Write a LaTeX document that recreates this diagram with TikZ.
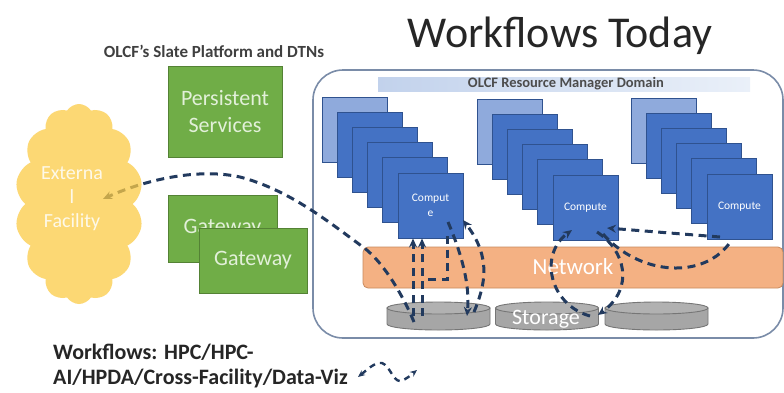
\documentclass[tikz,border=0pt]{standalone}
\usepackage{fontspec}
\setmainfont{Carlito}
\usetikzlibrary{shapes.symbols,arrows.meta}
\definecolor{gfill}{HTML}{70AD47}
\definecolor{gdraw}{HTML}{548235}
\definecolor{gtext}{HTML}{E2F0D9}
\definecolor{cdark}{HTML}{4472C4}
\definecolor{clight}{HTML}{8FAADC}
\definecolor{cborder}{HTML}{2F528F}
\definecolor{netfill}{HTML}{F4B183}
\definecolor{netdraw}{HTML}{C98A5E}
\definecolor{diskfill}{HTML}{A6A6A6}
\definecolor{diskdraw}{HTML}{767676}
\definecolor{flow}{HTML}{223A5E}
\definecolor{cloudfill}{HTML}{FBCB46}
\definecolor{domainc}{HTML}{7A8CA8}
\definecolor{hdrA}{HTML}{C2D2EC}
\definecolor{hdrB}{HTML}{EAF0F9}
\tikzset{
  greenbox/.style={draw=gdraw, fill=gfill, text=gtext, line width=0.8pt,
    font=\fontsize{22}{27}\selectfont, align=center, inner sep=0pt},
  computebox/.style={draw=cborder, fill=cdark, line width=0.9pt,
    minimum width=65pt, minimum height=65pt, inner sep=0pt,
    text=white, align=center, font=\fontsize{11.5}{15}\selectfont},
  lightbox/.style={computebox, fill=clight},
  flowline/.style={draw=flow, line width=3pt, dash pattern=on 8pt off 5.5pt},
  flowarrow/.style={flowline, -{Stealth[length=9pt,width=8pt]}},
  disk/.pic={
    \path[fill=diskfill, draw=diskdraw, line width=0.9pt]
      (-51.5,0) -- (-51.5,-16) arc[start angle=180, end angle=360, x radius=51.5, y radius=6] -- (51.5,0) -- cycle;
    \path[fill=diskfill!88!white, draw=diskdraw, line width=0.9pt]
      (0,0) ellipse[x radius=51.5, y radius=6];
    \coordinate (-c) at (0,-8);
  }
}
\begin{document}
\begin{tikzpicture}[x=1pt, y=1pt]
\useasboundingbox (0,0) rectangle (784,-392);
\fill[white] (0,0) rectangle (784,-392);

% title and captions
\node[font=\fontsize{44}{50}\selectfont, text=black!85] (title) at (560,-36) {Workflows Today};
\node[font=\bfseries\fontsize{17}{20}\selectfont, text=black!75] (slate) at (214,-51) {OLCF's Slate Platform and DTNs};

% domain
\draw[domainc, line width=1.6pt, rounded corners=30pt] (313,-70) rectangle (783,-338);
\path[left color=hdrA, right color=hdrB] (378,-77) rectangle (750,-91);
\node[font=\bfseries\fontsize{14.5}{17}\selectfont, text=black!70] (hdr) at (566,-84) {OLCF Resource Manager Domain};

% network
\node[draw=netdraw, fill=netfill, line width=0.8pt, rounded corners=5pt, minimum width=420pt, minimum height=41pt, inner sep=0pt] (net) at (573,-267.5) {};
\node[text=white, font=\fontsize{23}{27}\selectfont] (nettext) at (573,-267) {Network};

% compute stacks
\foreach \st/\sx/\sy in {1/322/97, 2/477/99, 3/631/98} {
  \foreach \i in {0,...,4} {
    \pgfmathsetmacro\cx{\sx+32.5+15.2*\i}
    \pgfmathsetmacro\cy{-(\sy+32.5+15.2*\i)}
    \ifnum\i=0
      \node[lightbox] (s\st c\i) at (\cx,\cy) {};
    \else
      \node[computebox] (s\st c\i) at (\cx,\cy) {};
    \fi
  }
}
\node[computebox] (s1c5) at (430.5,-205.5) {Comput\\e};
\node[computebox] (s2c5) at (585.5,-207.5) {Compute};
\node[computebox] (s3c5) at (739.5,-206.5) {Compute};

% storage
\pic (d1) at (438.5,-308) {disk};
\pic (d2) at (547,-308) {disk};
\pic (d3) at (656.5,-308) {disk};
\node[text=white, font=\fontsize{22}{26}\selectfont] (stg) at (546,-319) {Storage};

% green boxes
\node[greenbox, minimum width=114pt, minimum height=91pt] (persist) at (225,-111.5) {Persistent\\Services};
\node[greenbox, minimum width=109pt, minimum height=67pt] (gw1) at (222.5,-228.5) {Gateway};
\node[greenbox, minimum width=108pt, minimum height=65pt] (gw2) at (253,-260.5) {Gateway};

% flow endpoints
\coordinate (p1s) at (414,-322);
\coordinate (ext) at (103,-199);
\coordinate (a1s) at (413,-316);
\coordinate (b1s) at (422,-316);
\coordinate (c1s) at (447,-236);
\coordinate (c1e) at (426,-279);
\coordinate (d1s) at (448,-222);
\coordinate (d1e) at (467,-316);
\coordinate (e1s) at (474,-312);
\coordinate (e1e) at (463,-220);
\coordinate (l2s) at (590,-316);
\coordinate (l2e) at (572,-230);
\coordinate (r2s) at (597,-232);
\coordinate (r2e) at (598,-315);
\coordinate (h3s) at (720,-237);
\coordinate (h2e) at (607,-228);
\coordinate (u2s) at (603,-234);
\coordinate (u3e) at (731,-241);
\coordinate (legL) at (358,-377);
\coordinate (legR) at (417,-370);

% flows
\draw[flowarrow] (p1s) .. controls (405,-300) and (385,-263) .. (363,-247)
  .. controls (330,-223) and (290,-190) .. (240,-177)
  .. controls (195,-167) and (140,-182) .. (ext);
\draw[flowarrow] (a1s) -- (a1s |- s1c5.south);
\draw[flowarrow] (b1s) -- (b1s |- s1c5.south);
\draw[flowline] (c1s) |- (c1e);
\draw[flowarrow] (d1s) .. controls (462,-255) and (470,-285) .. (d1e);
\draw[flowarrow] (e1s) .. controls (485,-285) and (492,-258) .. (e1e);
\draw[flowarrow] (l2s) .. controls (550,-305) and (538,-255) .. (l2e);
\draw[flowarrow] (r2s) .. controls (625,-250) and (635,-288) .. (r2e);
\draw[flowarrow] (h3s) -- (h2e);
\draw[flowline] (u2s) .. controls (640,-276) and (705,-280) .. (u3e);

% external facility cloud (over the arrow, translucent)
\node[cloud, cloud puffs=14, cloud puff arc=115, aspect=0.65, fill=cloudfill, fill opacity=0.75, draw=none,
  minimum width=128pt, minimum height=200pt, inner sep=0pt] (cloud) at (79,-204) {};
\node[text=white!88!cloudfill, align=center, font=\fontsize{20}{24}\selectfont] (exttext) at (72,-199) {Externa\\l\\Facility};

% footer
\node[anchor=west, align=left, inner sep=0pt, text=black!85, font=\bfseries\fontsize{22}{25}\selectfont] (footer) at (53,-366) {Workflows: HPC/HPC-\\AI/HPDA/Cross-Facility/Data-Viz};
\draw[flowline, line width=2.4pt, dash pattern=on 6pt off 5pt, {Stealth[length=7pt,width=6pt]}-{Stealth[length=7pt,width=6pt]}]
  (legL) .. controls (368,-369) and (375,-362) .. (382,-363)
  .. controls (390,-366) and (393,-381) .. (400,-381)
  .. controls (406,-380) and (412,-374) .. (legR);
\end{tikzpicture}
\end{document}
